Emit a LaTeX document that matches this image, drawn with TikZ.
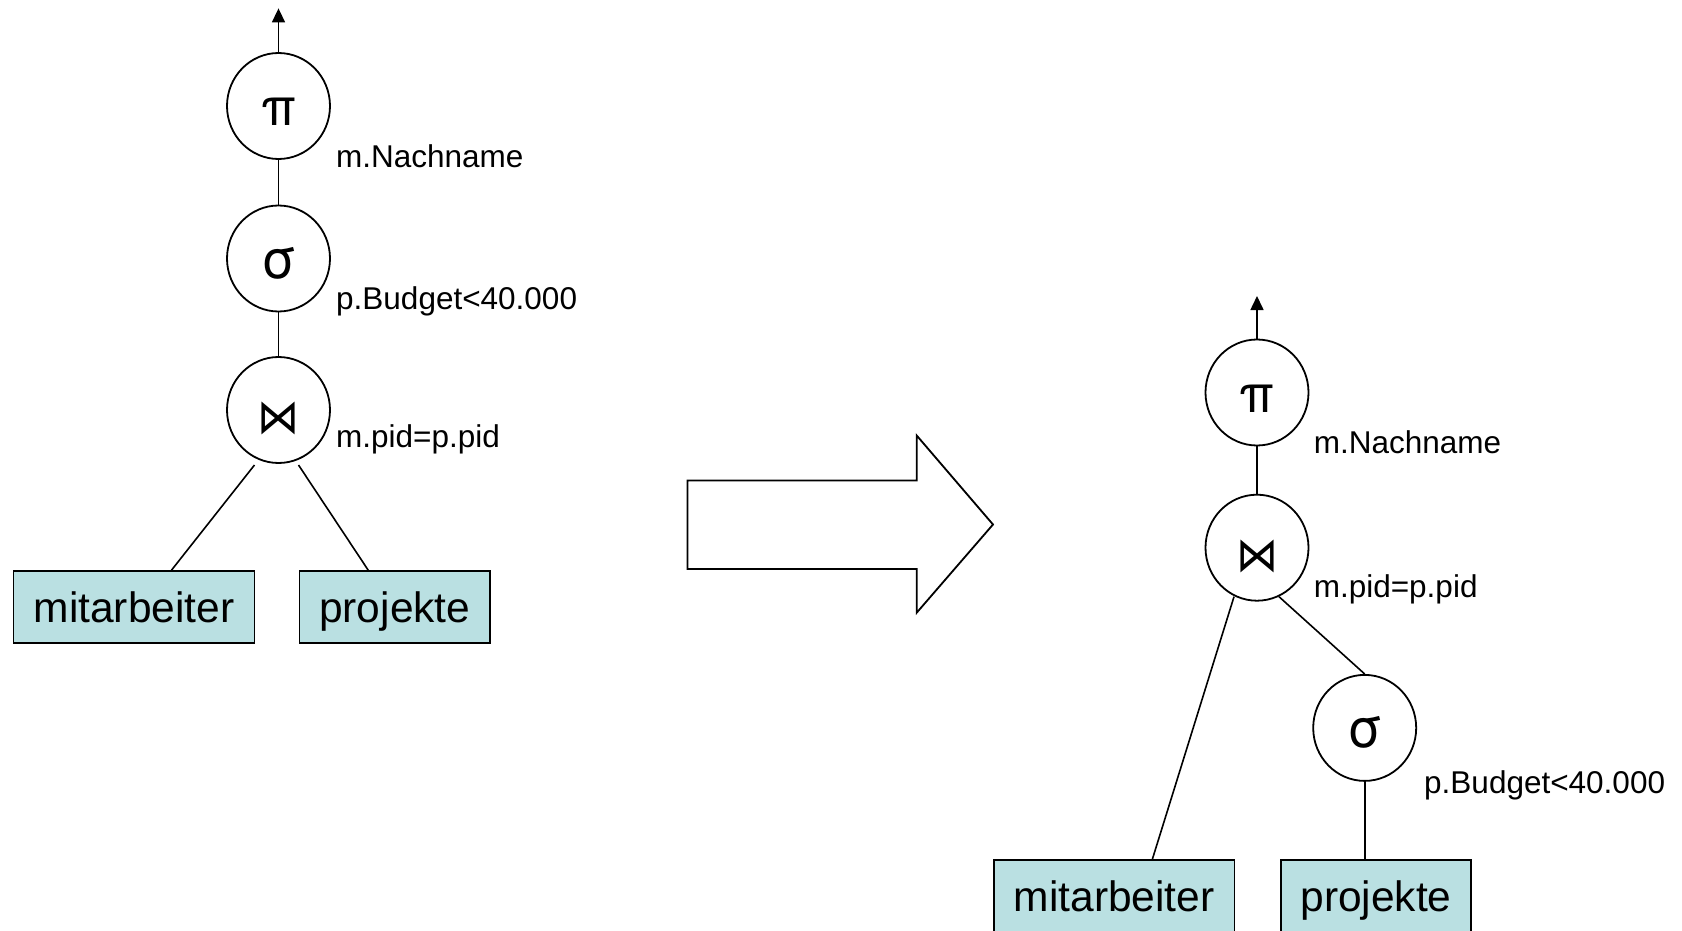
\documentclass[tikz,border=0pt]{standalone}
\usepackage{graphicx}
\usepackage{fontspec}
\setmainfont{Liberation Sans}
\newfontfamily\symfont{DejaVu Sans}
\newfontfamily\greekfont{TeX Gyre Heros}
\usetikzlibrary{arrows.meta,shapes.geometric}
\definecolor{relfill}{RGB}{186,224,226}

\tikzset{
  opnode/.style={ellipse, draw, line width=1.8pt, minimum width=103pt,
    minimum height=106pt, inner sep=0pt, text height=40pt, text depth=0pt,
    font=\fontsize{54}{54}\greekfont},
  joinnode/.style={opnode, text height=47pt},
  cond/.style={anchor=base west, inner sep=0pt,
    font=\fontsize{31.5}{31.5}\selectfont},
  relnode/.style={draw, fill=relfill, line width=1.8pt, inner sep=0pt,
    minimum height=72pt, text height=31pt, text depth=0pt,
    font=\fontsize{42.5}{42.5}\selectfont},
  edge/.style={line width=1.6pt},
  resultarrow/.style={line width=1.6pt, -{Triangle[width=13pt,length=14pt]}},
}
\newcommand{\projsym}{\resizebox*{35pt}{27.5pt}{π}}
\newcommand{\joinsym}{\resizebox*{42pt}{33pt}{\symfont ⋈}}

\begin{document}
\begin{tikzpicture}[x=1pt, y=-1pt]
  \useasboundingbox (0,0) rectangle (1682,931);
  \clip (0,0) rectangle (1682,931);

  % ---- original plan ----
  \node[opnode]   (pl) at (278.5,106) {\projsym};
  \node[opnode]   (sl) at (278.5,258.5) {σ};
  \node[joinnode] (jl) at (278.5,410) {\joinsym};
  \node[relnode, minimum width=241pt]   (ml) at (134,607.2) {mitarbeiter};
  \node[relnode, minimum width=190.5pt] (rl) at (394.8,607.2) {projekte};

  \node[cond] (pl-c) at (336,167.5) {m.Nachname};
  \node[cond] (sl-c) at (336,309.3) {p.Budget<40.000};
  \node[cond] (jl-c) at (336,447)   {m.pid=p.pid};

  \coordinate (tl) at (278.5,8.4);
  \draw[resultarrow] (pl.north) -- (tl);
  \draw[edge] (pl.south) -- (sl.north);
  \draw[edge] (sl.south) -- (jl.north);
  \draw[edge] ([shift={(-24,55)}]jl.center) -- ([xshift=37.4pt]ml.north);
  \draw[edge] ([shift={(20,55)}]jl.center) -- ([xshift=-26.5pt]rl.north);

  % ---- transformation arrow ----
  \draw[line width=1.8pt, line join=miter]
    (687.5,480.5) -- (916.7,480.5) -- (916.7,435.5) -- (993,524.5)
    -- (916.7,612.7) -- (916.7,569) -- (687.5,569) -- cycle;

  % ---- optimised plan ----
  \node[opnode]   (pr) at (1257,392.5) {\projsym};
  \node[joinnode] (jr) at (1257,547.7) {\joinsym};
  \node[opnode]   (sr) at (1364.7,727.9) {σ};
  \node[relnode, minimum width=240.5pt] (mr) at (1114.2,896) {mitarbeiter};
  \node[relnode, minimum width=190.5pt] (rr) at (1376,896) {projekte};

  \node[cond] (pr-c) at (1313.6,453.5) {m.Nachname};
  \node[cond] (jr-c) at (1313.6,597.6) {m.pid=p.pid};
  \node[cond] (sr-c) at (1424,793.5)   {p.Budget<40.000};

  \coordinate (tr) at (1257,296);
  \draw[resultarrow] (pr.north) -- (tr);
  \draw[edge] (pr.south) -- (jr.north);
  \draw[edge] ([shift={(-23,49)}]jr.center) -- ([xshift=38.2pt]mr.north);
  \draw[edge] ([shift={(22,49)}]jr.center) -- (sr.north);
  \draw[edge] (sr.south) -- (sr.south |- rr.north);
\end{tikzpicture}
\end{document}
